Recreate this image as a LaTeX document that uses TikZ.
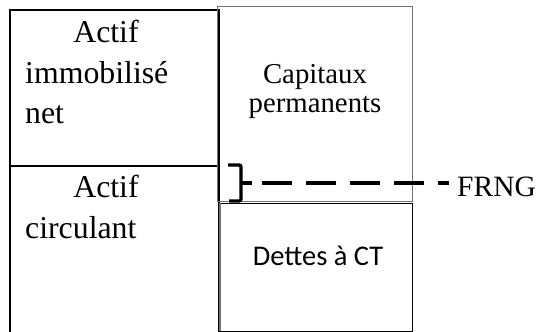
\documentclass[tikz,border=0pt]{standalone}
\usepackage{fontspec}
\setmainfont{Liberation Serif}
\newfontfamily\calibrilike{Carlito}
\begin{document}
\begin{tikzpicture}[x=1pt,y=-1pt,
  serifbig/.style={font=\fontsize{31.8}{40}\selectfont, inner sep=0pt},
  serifmid/.style={font=\fontsize{28.8}{29}\selectfont, inner sep=0pt},
  sansmid/.style={font=\calibrilike\fontsize{28.5}{30}\selectfont, inner sep=0pt},
  leftframe/.style={line width=1.8pt, black},
  thinframe/.style={line width=0.9pt, black!55},
  bracefill/.style={line width=3.4pt, black, line cap=butt, rounded corners=2pt},
  gapline/.style={line width=3.6pt, black, dash pattern=on 30pt off 14pt}]
\useasboundingbox (0,0) rectangle (542,332);
\fill[white] (0,0) rectangle (542,332);

% Assets column (open at the bottom)
\draw[leftframe] (10,334) -- (10,10) -- (219,10) -- (219,334);
\draw[leftframe] (10,166) -- (219,166);

% Liabilities column
\draw[thinframe] (217,6) rectangle (412,201);
\draw[line width=0.9pt, black] (220,331) -- (412,331) -- (412,203) -- (220,203);
\draw[line width=2pt, black!55] (220,203) -- (220,331);

% Labels
\node[serifbig, anchor=base] (a1) at (106,42) {Actif};
\node[serifbig, anchor=base west] (a2) at (25,83) {immobilisé};
\node[serifbig, anchor=base west] (a3) at (25,123) {net};
\node[serifbig, anchor=base] (c1) at (106,197) {Actif};
\node[serifbig, anchor=base west] (c2) at (25,238) {circulant};
\node[serifmid, anchor=base] (p1) at (315,83) {Capitaux};
\node[serifmid, anchor=base] (p2) at (315,112) {permanents};
\node[sansmid, anchor=base] (d1) at (318,265) {Dettes à CT};
\node[font=\fontsize{29.5}{30}\selectfont, inner sep=0pt, anchor=base west] (fr) at (457,196) {FRNG};

% Brace marking the working capital and its dashed pointer
\draw[bracefill] (228,165) -- (241,165) -- (241,201) -- (229,201);
\coordinate (tip) at (252,183);
\draw[line width=3.4pt] (241,183) -- (tip);
\coordinate (dashend) at (449,183);
\draw[gapline] (262,183) -- (dashend);
\end{tikzpicture}
\end{document}
